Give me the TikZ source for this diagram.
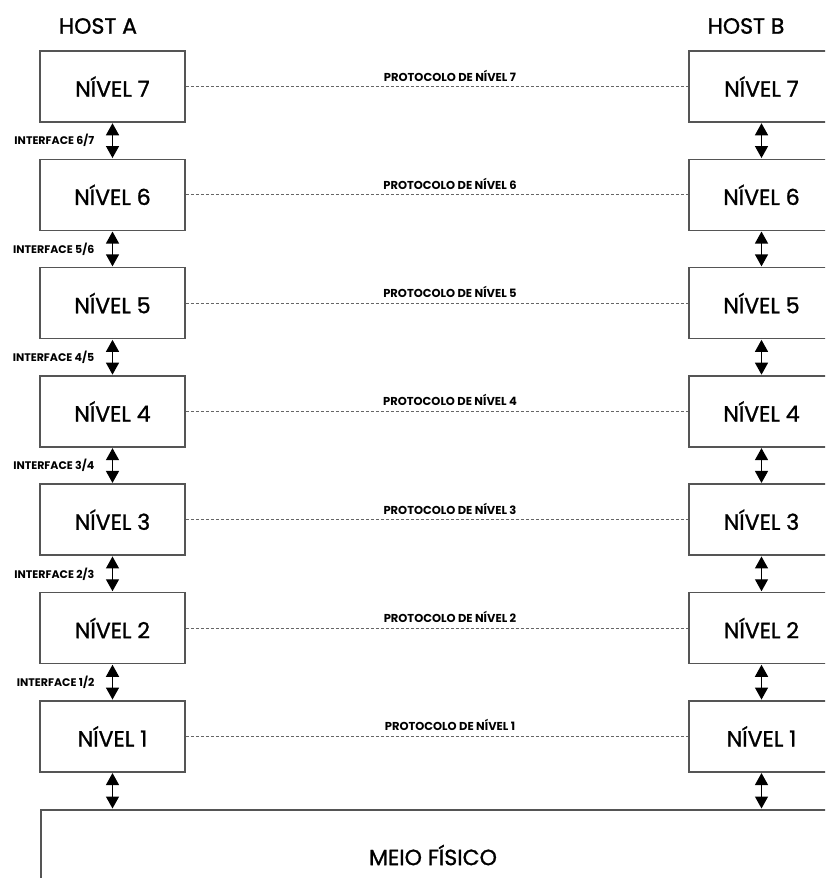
\documentclass[tikz,border=0pt]{standalone}
\usepackage{fontspec}
\setmainfont{Poppins}
\newfontfamily\heavyfont{Poppins}[FakeBold=1.2]
\usetikzlibrary{arrows.meta}
\definecolor{boxline}{HTML}{555555}
\definecolor{dashline}{HTML}{666666}
\tikzset{
  lvl/.style={draw=boxline, line width=1.5pt, fill=white, minimum width=145pt, minimum height=71pt, inner sep=0pt, font=\heavyfont\fontsize{22}{24}\selectfont},
  hosttitle/.style={font=\heavyfont\fontsize{22}{24}\selectfont, inner sep=0pt},
  biarrow/.style={line width=1.3pt, {Triangle[width=13pt,length=12pt]}-{Triangle[width=13pt,length=12pt]}, shorten <=0.5pt, shorten >=0.5pt},
  protoline/.style={draw=dashline, line width=0.8pt, dash pattern=on 3pt off 2pt},
  protolabel/.style={font=\bfseries\fontsize{11.5}{13}\selectfont, inner sep=0pt},
  iflabel/.style={font=\bfseries\fontsize{11}{13}\selectfont, inner sep=0pt, anchor=east},
}
\begin{document}
\begin{tikzpicture}[x=1pt,y=-1pt]
\clip (0,0) rectangle (825,878);
\fill[white] (0,0) rectangle (825,878);
% titles
\node[hosttitle] (hosta) at (98,26) {HOST A};
\node[hosttitle] (hostb) at (746,26) {HOST B};
% level boxes
\foreach \i in {7,6,5,4,3,2,1} {
  \pgfmathsetmacro{\yc}{86.5+(7-\i)*108.3}
  \node[lvl] (a\i) at (112.5,\yc) {NÍVEL \i};
  \node[lvl] (b\i) at (761.5,\yc) {NÍVEL \i};
  \draw[protoline] (a\i.east) -- (b\i.west);
  \node[protolabel] (p\i) at (450,\yc-11) {PROTOCOLO DE NÍVEL \i};
}
% physical medium
\node[draw=boxline, line width=1.5pt, anchor=north west, minimum width=900pt, minimum height=120pt, inner sep=0pt] (meio) at (40,809) {};
\node[font=\heavyfont\fontsize{22}{24}\selectfont, inner sep=0pt] (meiotxt) at (433,855) {MEIO FÍSICO};
% interfaces
\foreach \u/\l in {7/6,6/5,5/4,4/3,3/2,2/1} {
  \draw[biarrow] (a\u.south) -- (a\l.north);
  \draw[biarrow] (b\u.south) -- (b\l.north);
  \path (a\u.south) -- (a\l.north) coordinate[midway] (m\u);
  \node[iflabel] (if\u) at ([xshift=-18pt]m\u) {INTERFACE \l/\u};
}
\draw[biarrow] (a1.south) -- (a1.south |- meio.north);
\draw[biarrow] (b1.south) -- (b1.south |- meio.north);
\end{tikzpicture}
\end{document}
